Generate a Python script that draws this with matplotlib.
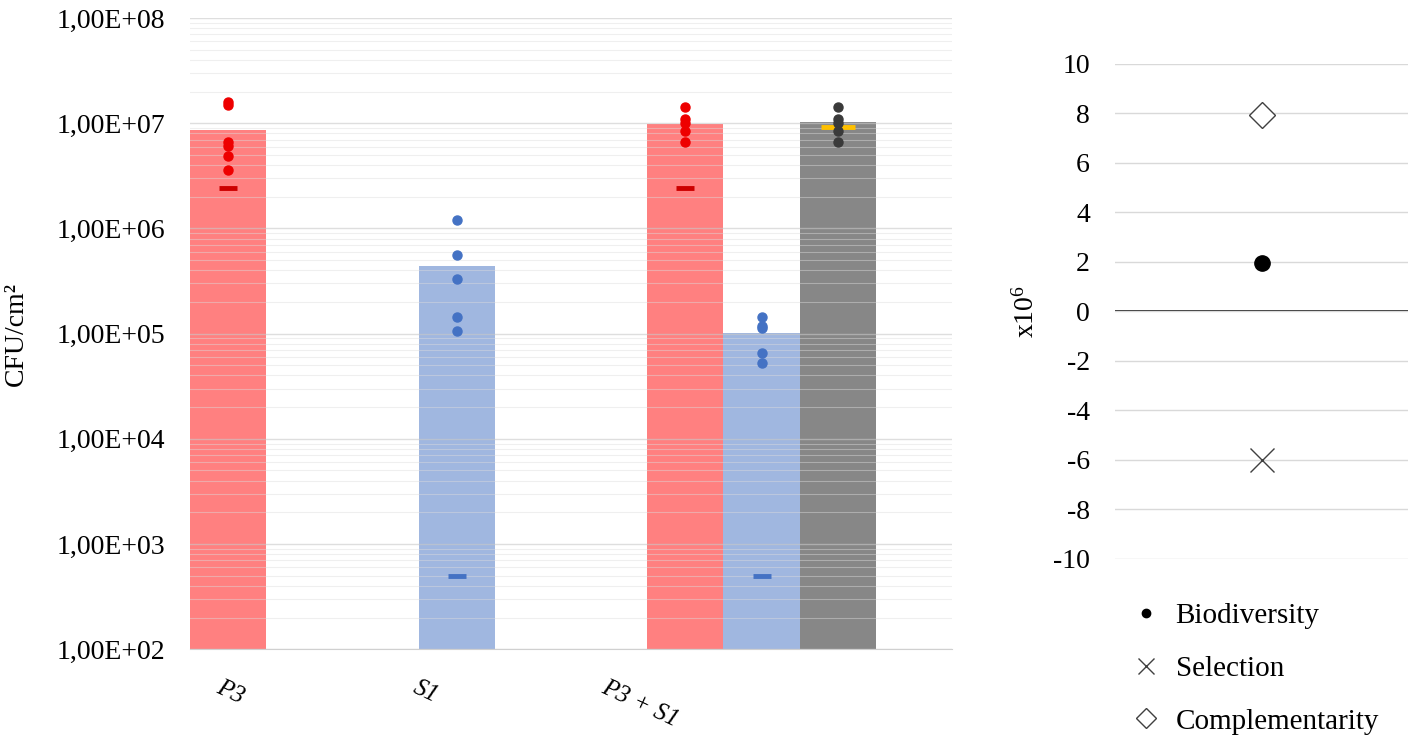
import math
import matplotlib
matplotlib.use("Agg")
from matplotlib import pyplot as plt
from matplotlib.lines import Line2D
from matplotlib.ticker import FixedLocator, FuncFormatter, NullFormatter

plt.rcParams["font.family"] = ["Liberation Serif", "DejaVu Serif"]
plt.rcParams["font.size"] = 20
plt.rcParams["axes.unicode_minus"] = False
plt.rcParams["mathtext.fontset"] = "custom"
plt.rcParams["mathtext.rm"] = "Liberation Serif"
plt.rcParams["mathtext.it"] = "Liberation Serif:italic"

# left panel: bar means (CFU/cm2)
bar_pos = [0.5, 3.5, 6.5, 7.5, 8.5]
bar_vals = [8.7e6, 4.44e5, 9.9e6, 1.01e5, 1.02e7]
bar_colors = ["#ff8080", "#a0b7e0", "#ff8080", "#a0b7e0", "#878787"]

# replicate points per bar
rep_p3 = [1.6e7, 1.5e7, 6.6e6, 6.1e6, 4.85e6, 3.6e6]
rep_s1 = [1.19e6, 5.65e5, 3.34e5, 1.45e5, 1.05e5]
rep_mix_p3 = [1.42e7, 1.09e7, 1.0e7, 8.4e6, 6.7e6]
rep_mix_s1 = [1.45e5, 1.19e5, 1.12e5, 6.6e4, 5.2e4]
rep_mix_tot = [1.42e7, 1.09e7, 1.0e7, 8.5e6, 6.7e6]
replicates = [rep_p3, rep_s1, rep_mix_p3, rep_mix_s1, rep_mix_tot]
dot_colors = ["#ee0000", "#4472c4", "#ee0000", "#4472c4", "#3a3a3a"]

# dash markers (expected / initial values)
dash_vals = [2.4e6, 5.0e2, 2.4e6, 5.0e2, 9.3e6]
dash_colors = ["#cc0000", "#4472c4", "#cc0000", "#4472c4", "#ffc000"]
dash_sizes = [13, 13, 13, 13, 24]

cat_labels = ["P3", "S1", "P3 + S1"]
cat_ticks = [0.42, 3.0, 5.48]

y_major = [1e2, 1e3, 1e4, 1e5, 1e6, 1e7, 1e8]

# right panel: effects (x10^6)
effect_names = ["Biodiversity", "Selection", "Complementarity"]
effect_vals = [1.95, -6.0, 7.95]

fig = plt.figure(figsize=(14.18, 7.39), dpi=100)
ax = fig.add_axes([0.134, 0.1215, 0.5374, 0.8541])

ax.set_yscale("log")
ax.set_ylim(1e2, 1e8)
ax.set_xlim(0, 10)

ax.bar(bar_pos, bar_vals, width=1.0, color=bar_colors, zorder=1)
ax.yaxis.set_major_locator(FixedLocator(y_major))
ax.yaxis.set_minor_locator(FixedLocator([m * d for d in y_major[:-1] for m in range(2, 10)]))
ax.yaxis.set_minor_formatter(NullFormatter())


def sci_comma(v, pos):
    e = int(round(math.log10(v)))
    return "1,00E+{:02d}".format(e)


ax.yaxis.set_major_formatter(FuncFormatter(sci_comma))
ax.grid(True, which="major", axis="y", color="#c8c8c8", lw=1.0, alpha=0.6, zorder=2)
ax.grid(True, which="minor", axis="y", color="#dcdcdc", lw=0.8, alpha=0.45, zorder=2)

for x, d, c, s in zip(bar_pos, dash_vals, dash_colors, dash_sizes):
    ax.plot([x], [d], "_", color=c, ms=s, mew=3.5, zorder=3)
for x, reps, c in zip(bar_pos, replicates, dot_colors):
    ax.plot([x] * len(reps), reps, "o", color=c, ms=6.5, zorder=4, ls="none")

for s in ["top", "right", "left"]:
    ax.spines[s].set_visible(False)
ax.spines["bottom"].set_color("#d0d0d0")
ax.tick_params(axis="y", which="both", length=0, pad=18, labelsize=20)
ax.xaxis.set_major_locator(FixedLocator(cat_ticks))
ax.set_xticklabels(cat_labels, rotation=-25, ha="left", rotation_mode="anchor",
                   style="italic", fontsize=18)
ax.tick_params(axis="x", length=0, pad=20)
ax.set_ylabel("CFU/cm²", fontsize=20, labelpad=20)

# right panel
ax2 = fig.add_axes([0.7863, 0.2436, 0.2067, 0.6698])
ax2.set_xlim(0, 1)
ax2.set_ylim(-10, 10)
ax2.set_yticks(range(-10, 11, 2))
ax2.grid(True, axis="y", color="#d9d9d9", lw=1.0, zorder=0)
ax2.axhline(0, color="black", lw=1.2, zorder=1)
ax2.plot([0.5], [effect_vals[0]], "o", color="black", ms=11, zorder=3)
ax2.plot([0.5], [effect_vals[1]], "x", color="#404040", ms=17, mew=1.0, zorder=3)
ax2.plot([0.5], [effect_vals[2]], "D", mfc="white", mec="#404040", ms=13, mew=1.0, zorder=3)
for s in ax2.spines.values():
    s.set_visible(False)
ax2.set_xticks([])
ax2.tick_params(axis="y", length=0, pad=18, labelsize=20)
ax2.set_ylabel("x10$^6$", fontsize=20, labelpad=10)

handles = [
    Line2D([], [], marker="o", color="black", ms=6, ls="none"),
    Line2D([], [], marker="x", color="#404040", ms=12, mew=1.0, ls="none"),
    Line2D([], [], marker="D", mfc="white", mec="#404040", ms=10, mew=1.0, ls="none"),
]
fig.legend(handles, effect_names, loc="upper left", bbox_to_anchor=(0.79, 0.2),
           frameon=False, fontsize=21, handlelength=1.0, handletextpad=0.5,
           labelspacing=0.9, borderaxespad=0)

fig.savefig("out.png", dpi=100)
